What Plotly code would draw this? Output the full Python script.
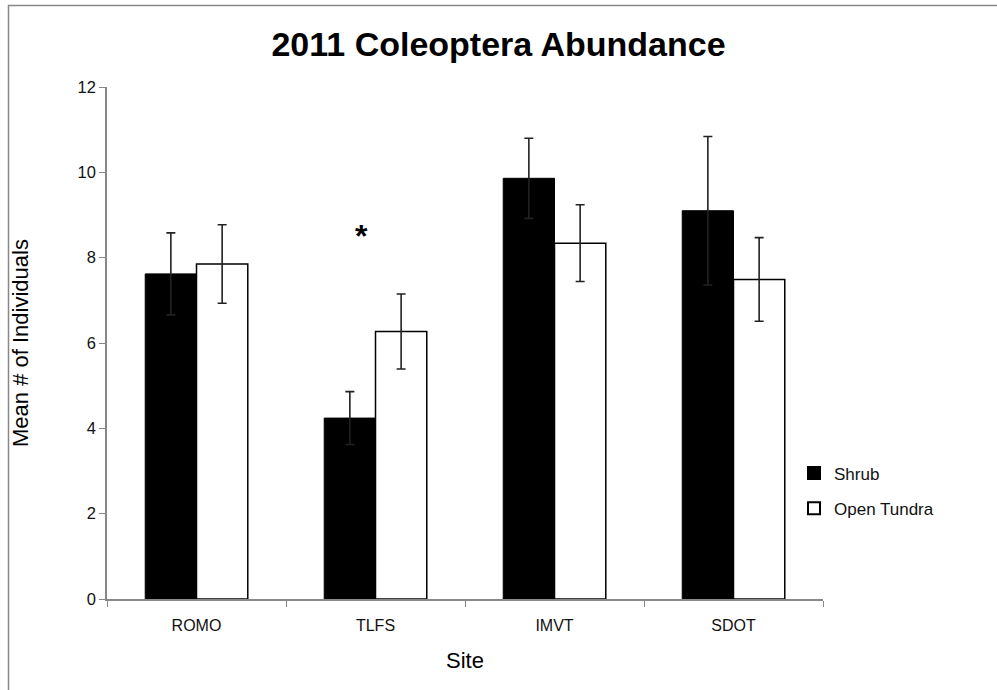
import plotly.graph_objects as go

sites = ["ROMO", "TLFS", "IMVT", "SDOT"]
shrub_mean = [7.62, 4.24, 9.86, 9.10]
shrub_err = [0.96, 0.62, 0.94, 1.74]
open_mean = [7.85, 6.27, 8.34, 7.49]
open_err = [0.92, 0.88, 0.90, 0.98]
y_ticks = [0, 2, 4, 6, 8, 10, 12]

W, H = 997, 690
L, R, T, B = 107, 174, 87, 91
pw, ph = W - L - R, H - T - B

def px_x(x):
    return (x - L) / pw

def px_y(y):
    return (H - B - y) / ph

fig = go.Figure()
fig.add_trace(go.Bar(
    x=sites, y=shrub_mean, name="Shrub", legendgroup="a",
    marker=dict(color="black", line=dict(color="black", width=1)),
    error_y=dict(type="data", array=shrub_err, visible=True, color="#222", thickness=1.6, width=4.5),
))
fig.add_trace(go.Bar(
    x=sites, y=open_mean, name="Open Tundra", legendgroup="b",
    marker=dict(color="white", line=dict(color="black", width=1.5)),
    error_y=dict(type="data", array=open_err, visible=True, color="#222", thickness=1.6, width=4.5),
))

fig.update_layout(
    width=W, height=H,
    margin=dict(l=L, r=R, t=T, b=B, autoexpand=False),
    paper_bgcolor="white", plot_bgcolor="white",
    barmode="group", bargap=0.427, bargroupgap=0,
    font=dict(family="Liberation Sans, Arial, sans-serif", color="#111", size=16),
    title=dict(text="<b>2011 Coleoptera Abundance</b>", x=0.5, xanchor="center",
               y=1 - 44 / H, yanchor="middle", font=dict(size=34, color="#000")),
    showlegend=True,
    legend=dict(x=px_x(794), y=px_y(491), xanchor="left", yanchor="middle",
                font=dict(size=17), bgcolor="rgba(0,0,0,0)", traceorder="grouped",
                tracegroupgap=10, itemsizing="constant"),
    xaxis=dict(type="category", showline=True, linecolor="#888", linewidth=1.5,
               ticks="outside", tickson="boundaries", ticklen=6, tickcolor="#888",
               showgrid=False, zeroline=False, tickfont=dict(size=16),
               ticklabelstandoff=11),
    yaxis=dict(range=[0, 12], tickvals=y_ticks, showline=True, linecolor="#888", linewidth=1.5,
               ticks="outside", ticklen=6, tickcolor="#888", showgrid=False, zeroline=False,
               tickfont=dict(size=16.5), ticklabelstandoff=0),
)

fig.add_annotation(text="Mean # of Individuals", xref="paper", yref="paper",
                   x=px_x(20), y=0.5, textangle=-90, showarrow=False,
                   font=dict(size=22, color="#000"), xanchor="center", yanchor="middle")
fig.add_annotation(text="Site", xref="paper", yref="paper",
                   x=0.5, y=px_y(660), showarrow=False,
                   font=dict(size=22, color="#000"), xanchor="center", yanchor="middle")
fig.add_annotation(text="<b>*</b>", x="TLFS", y=8.5, xshift=-14, showarrow=False,
                   font=dict(size=32, color="#000"), yanchor="middle")

fig.add_shape(type="rect", xref="paper", yref="paper",
              x0=px_x(8.5), y0=px_y(5.5), x1=px_x(1010), y1=px_y(710),
              line=dict(color="#888", width=1.5), layer="above")

fig.write_html("out.html")
